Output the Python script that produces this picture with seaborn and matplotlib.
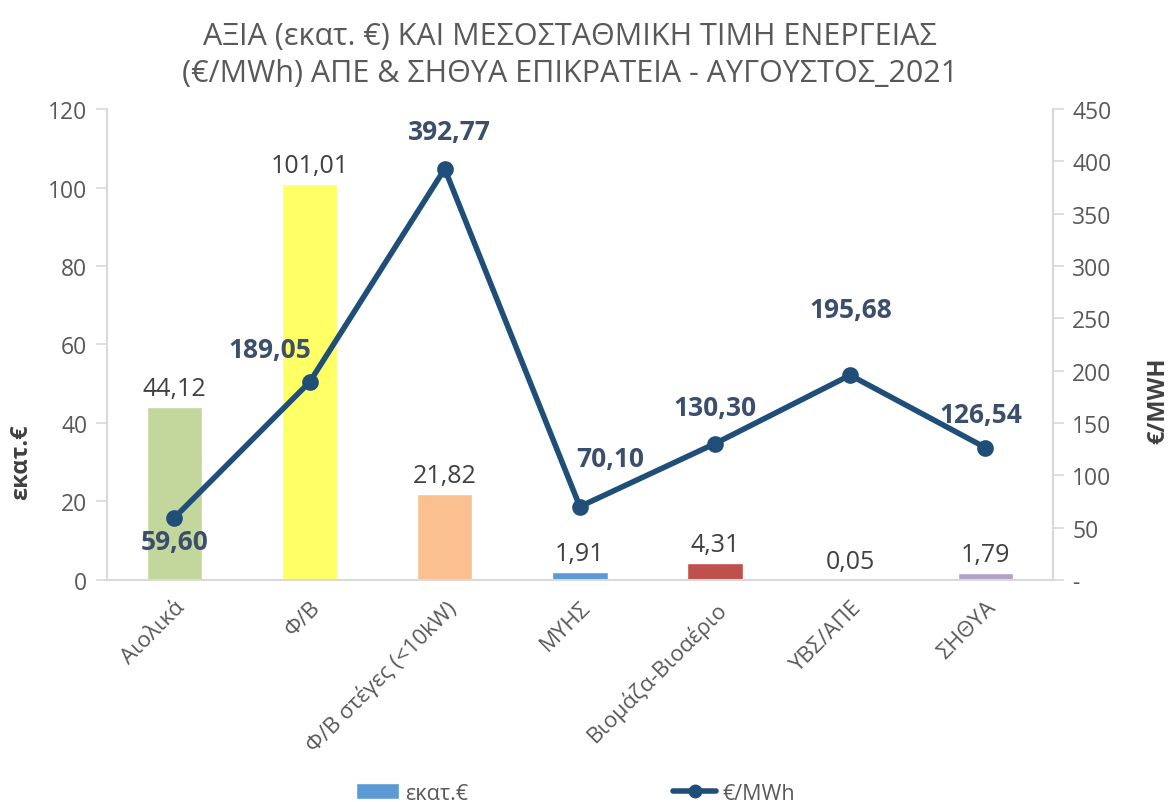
import numpy as np
import pandas as pd
import matplotlib
matplotlib.use("Agg")
import matplotlib.pyplot as plt
import seaborn as sns
from matplotlib.patches import Patch
from matplotlib.lines import Line2D
from matplotlib.ticker import FuncFormatter

categories = ["Αιολικά", "Φ/Β", "Φ/Β στέγες (<10kW)", "ΜΥΗΣ",
              "Βιομάζα-Βιοαέριο", "ΥΒΣ/ΑΠΕ", "ΣΗΘΥΑ"]
value_meur = [44.12, 101.01, 21.82, 1.91, 4.31, 0.05, 1.79]
price_mwh = [59.60, 189.05, 392.77, 70.10, 130.30, 195.68, 126.54]
bar_colors = ["#c3d69b", "#ffff66", "#fac090", "#5b9bd5", "#c0504d", "#8064a2", "#b3a2c7"]

# label offsets (pixels) for the price labels
price_offsets = [(0, -24), (-40, 33), (5, 37), (30, 48), (0, 36), (1, 66), (-4, 33)]

sns.set_theme(style="white")
plt.rcParams["font.family"] = ["Open Sans", "DejaVu Sans"]

grey = "#595959"
line_col = "#1f4e79"

df = pd.DataFrame({"cat": categories, "value": value_meur, "price": price_mwh})

fig = plt.figure(figsize=(11.75, 8.03), dpi=100)
ax = fig.add_axes([0.091, 0.2765, 0.805, 0.5865])

sns.barplot(data=df, x="cat", y="value", hue="cat", palette=bar_colors,
            width=0.41, legend=False, ax=ax, saturation=1)

for i, v in enumerate(value_meur):
    ax.annotate(f"{v:.2f}".replace(".", ","), (i, v), xytext=(0, 6),
                textcoords="offset pixels", ha="center", va="bottom",
                fontsize=18, color="#404040")

ax.set_ylim(0, 120)
ax.set_yticks(np.arange(0, 121, 20))
ax.set_xlim(-0.5, len(categories) - 0.5)
ax.set_xlabel("")
ax.set_ylabel("εκατ.€", fontsize=17, fontweight="bold", color="#404040")
ax.yaxis.set_label_coords(-0.078, 0.253)
ax.tick_params(axis="y", labelsize=16.5, labelcolor=grey, length=8, color="#d9d9d9", pad=6)
ax.tick_params(axis="x", length=0, pad=12)
ax.set_xticks(range(len(categories)))
ax.set_xticklabels(categories, rotation=45, ha="right", rotation_mode="anchor",
                   fontsize=16, color=grey)
ax.spines["top"].set_visible(False)
for s in ["left", "right", "bottom"]:
    ax.spines[s].set_color("#d9d9d9")
    ax.spines[s].set_linewidth(1.5)

ax2 = ax.twinx()
sns.pointplot(data=df, x="cat", y="price", color=line_col, markers="o",
              linewidth=4, markersize=9, ax=ax2)
ax2.set_ylim(0, 450)
ax2.set_yticks(np.arange(0, 451, 50))
ax2.yaxis.set_major_formatter(FuncFormatter(lambda v, p: "-" if v == 0 else f"{v:.0f}"))
ax2.tick_params(axis="y", labelsize=16.5, labelcolor=grey, length=8, color="#d9d9d9", pad=6)
ax2.set_ylabel("€/MWH", fontsize=17, fontweight="bold", color="#404040", rotation=90)
ax2.yaxis.set_label_coords(1.099, 0.382)
ax2.set_xlabel("")
ax2.set_xlim(-0.5, len(categories) - 0.5)
for s in ["top", "left", "bottom"]:
    ax2.spines[s].set_visible(False)
ax2.spines["right"].set_color("#d9d9d9")
ax2.spines["right"].set_linewidth(1.5)

for i, (p, off) in enumerate(zip(price_mwh, price_offsets)):
    ax2.annotate(f"{p:.2f}".replace(".", ","), (i, p), xytext=off,
                 textcoords="offset pixels", ha="center", va="center",
                 fontsize=19, fontweight="bold", color="#3b4e6c")

fig.suptitle("ΑΞΙΑ (εκατ. €) ΚΑΙ ΜΕΣΟΣΤΑΘΜΙΚΗ ΤΙΜΗ ΕΝΕΡΓΕΙΑΣ\n(€/MWh) ΑΠΕ & ΣΗΘΥΑ ΕΠΙΚΡΑΤΕΙΑ - ΑΥΓΟΥΣΤΟΣ_2021",
             x=0.485, y=0.972, fontsize=22, color=grey, linespacing=1.3)

handles = [Patch(facecolor="#5b9bd5", label="εκατ.€"),
           Line2D([0], [0], color=line_col, lw=4, marker="o", markersize=9, label="€/MWh")]
fig.legend(handles=handles, loc="lower center", bbox_to_anchor=(0.49, -0.026), ncol=2,
           frameon=False, fontsize=15.5, labelcolor=grey, columnspacing=9.5,
           handlelength=2.0, handletextpad=0.3)

fig.savefig("out.png", dpi=100)
